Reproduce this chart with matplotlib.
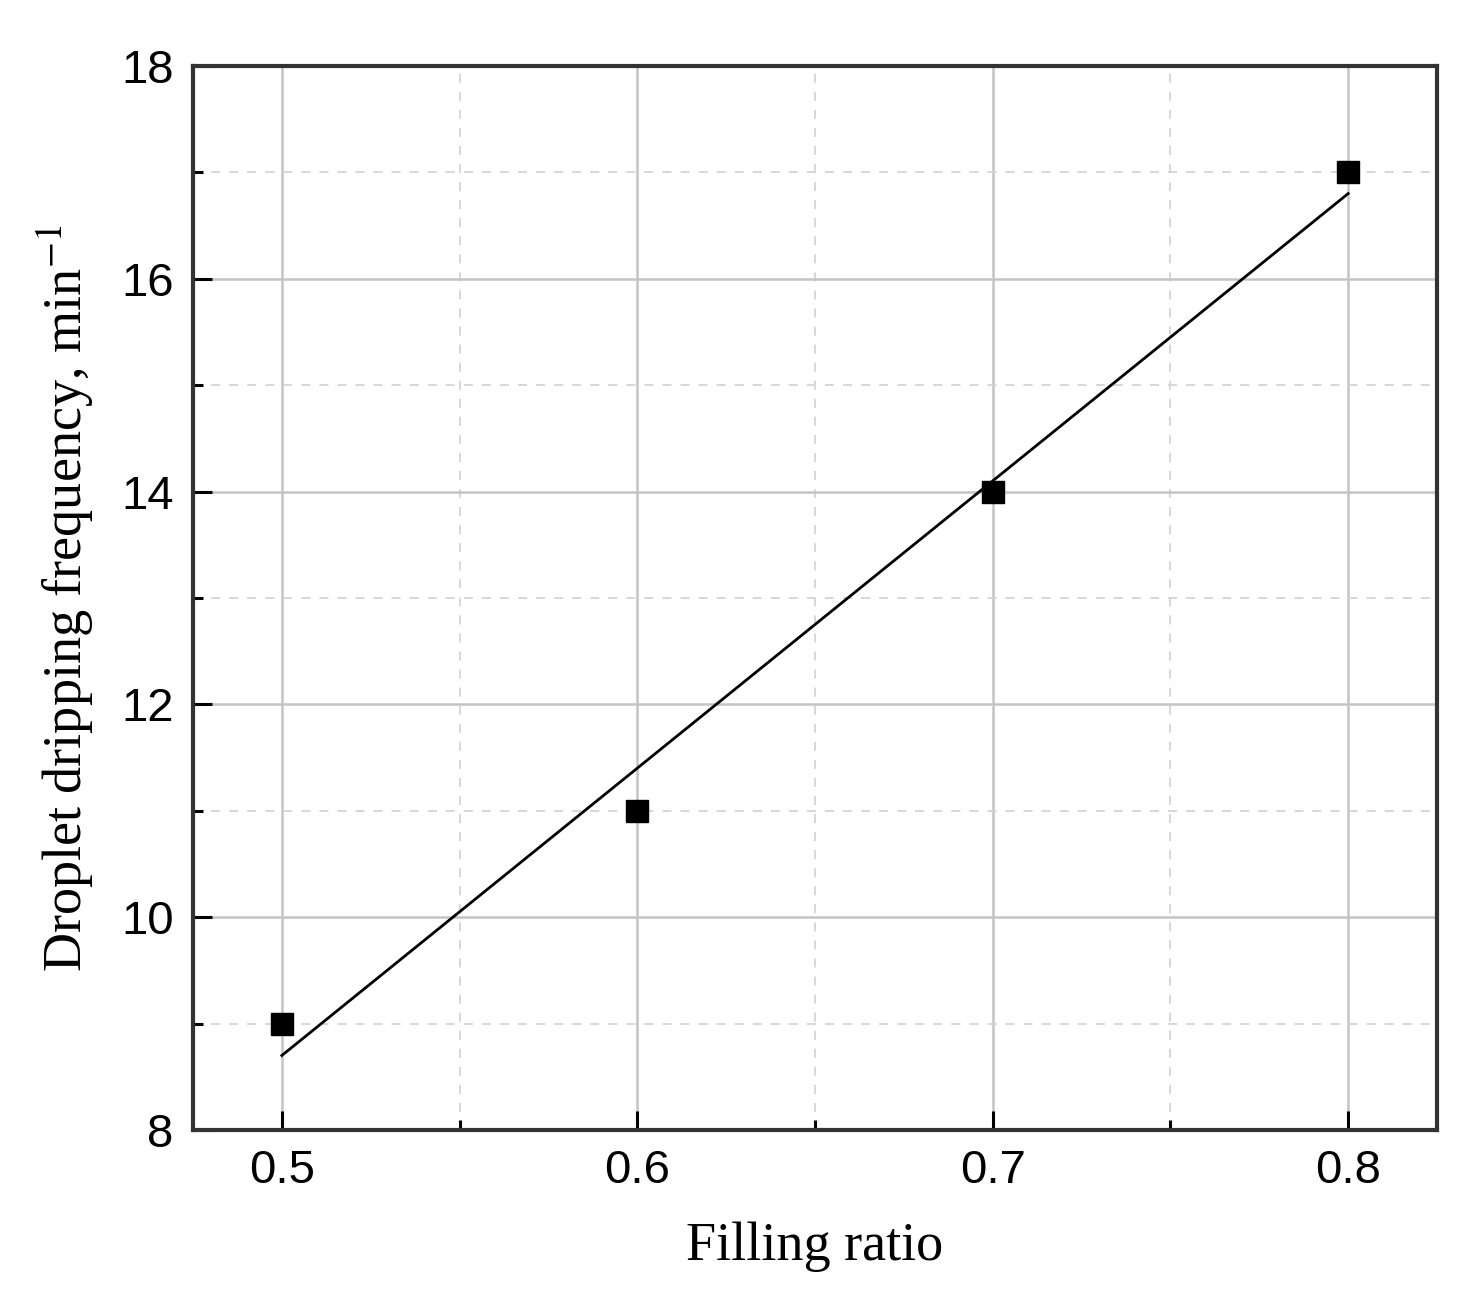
import numpy as np
import matplotlib
matplotlib.use("Agg")
import matplotlib.pyplot as plt
from matplotlib.ticker import MultipleLocator

# Data
filling_ratio = [0.5, 0.6, 0.7, 0.8]
drip_freq = [9, 11, 14, 17]

# linear fit through the points
coef = np.polyfit(filling_ratio, drip_freq, 1)
fit_x = np.array([filling_ratio[0], filling_ratio[-1]])
fit_y = np.polyval(coef, fit_x)

plt.rcParams['mathtext.fontset'] = 'stix'

fig = plt.figure(figsize=(14.72, 13.06), dpi=100)
ax = fig.add_axes([0.1311, 0.1348, 0.8451, 0.8147])

ax.plot(fit_x, fit_y, color='black', linewidth=2.0, zorder=3)
ax.plot(filling_ratio, drip_freq, linestyle='none', marker='s', markersize=16,
        color='black', zorder=4)

ax.set_xlim(0.475, 0.825)
ax.set_ylim(8, 18)
ax.xaxis.set_major_locator(MultipleLocator(0.1))
ax.xaxis.set_minor_locator(MultipleLocator(0.05))
ax.yaxis.set_major_locator(MultipleLocator(2))
ax.yaxis.set_minor_locator(MultipleLocator(1))

ax.grid(which='major', color='#c4c4c4', linestyle='-', linewidth=1.8)
ax.grid(which='minor', color='#d4d4d4', linestyle=(0, (5, 5)), linewidth=1.3)
ax.set_axisbelow(True)

ax.tick_params(which='major', direction='in', length=14, width=2.2,
               labelsize=34, pad=14, top=False, right=False)
ax.tick_params(which='minor', direction='in', length=7, width=2.2,
               top=False, right=False)
for lab in ax.get_xticklabels() + ax.get_yticklabels():
    lab.set_fontfamily('Liberation Sans')

for sp in ax.spines.values():
    sp.set_linewidth(3)
    sp.set_color('#333333')

ax.set_xlabel('Filling ratio', fontsize=39, family='Liberation Serif', labelpad=20)
ax.set_ylabel('Droplet dripping frequency, min$^{-1}$', fontsize=39,
              family='Liberation Serif', labelpad=18)

fig.savefig('out.png', dpi=100, facecolor='white')
